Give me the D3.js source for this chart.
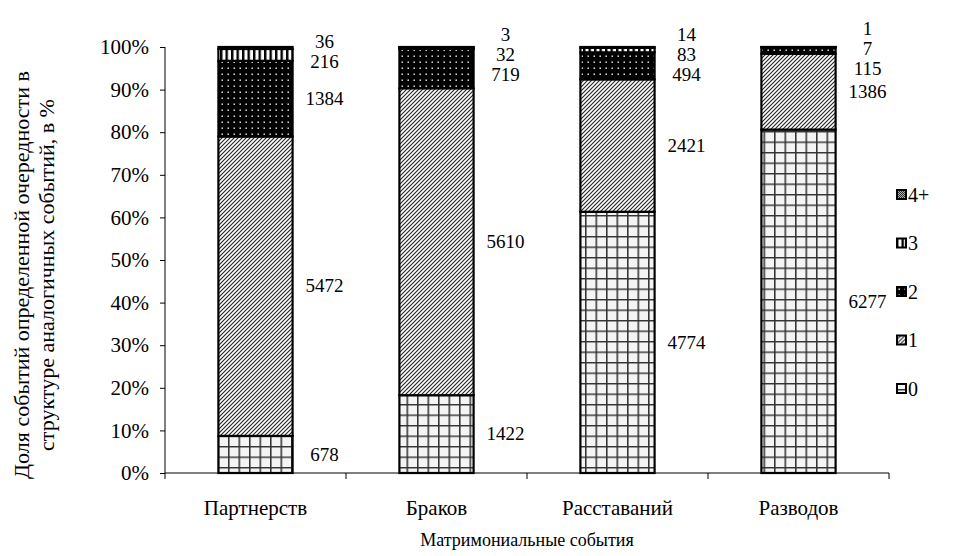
<!DOCTYPE html>
<html>
<head>
<meta charset="utf-8">
<script src="https://cdn.jsdelivr.net/npm/d3@7"></script>
<style>
  body { margin: 0; background: #fff; }
  .axis path, .axis line { stroke: #000; stroke-width: 1; }
</style>
</head>
<body>
<svg id="chart" width="958" height="556"></svg>
<script>
// данные
const categories = ['Партнерств', 'Браков', 'Расставаний', 'Разводов'];
const seriesNames = ['0', '1', '2', '3', '4+'];
const s0 = [678, 1422, 4774, 6277];
const s1 = [5472, 5610, 2421, 1386];
const s2 = [1384, 719, 494, 115];
const s3 = [216, 32, 83, 7];
const s4 = [36, 3, 14, 1];
const yTicks = [0, 0.1, 0.2, 0.3, 0.4, 0.5, 0.6, 0.7, 0.8, 0.9, 1];
const yTitle = ['Доля событий определенной очередности в', 'структуре аналогичных событий, в %'];
const xTitle = 'Матримониальные события';

const FONT = '"Liberation Serif", "Times New Roman", Times, serif';

const series = [s0, s1, s2, s3, s4];
const rows = categories.map((c, i) => {
    const r = { cat: c };
    seriesNames.forEach((k, j) => r[k] = series[j][i]);
    return r;
});

const svg = d3.select('#chart').attr('font-family', FONT);
const margin = { left: 165, right: 69, top: 47, bottom: 83 };
const width = 958 - margin.left - margin.right;
const height = 556 - margin.top - margin.bottom;

// узоры заливки
const defs = svg.append('defs');

const p0 = defs.append('pattern').attr('id', 'p0').attr('patternUnits', 'userSpaceOnUse')
    .attr('width', 10.5).attr('height', 10.5);
p0.append('rect').attr('width', 10.5).attr('height', 10.5).attr('fill', '#f4f4f4');
p0.append('path').attr('d', 'M0.75,0V10.5M0,0.75H10.5').attr('stroke', '#333').attr('stroke-width', 1.6);

const p1 = defs.append('pattern').attr('id', 'p1').attr('patternUnits', 'userSpaceOnUse')
    .attr('width', 4).attr('height', 4);
p1.append('rect').attr('width', 4).attr('height', 4).attr('fill', '#fff');
p1.append('path').attr('d', 'M-1,1L1,-1M0,4L4,0M3,5L5,3').attr('stroke', '#222').attr('stroke-width', 1.1);

const p2 = defs.append('pattern').attr('id', 'p2').attr('patternUnits', 'userSpaceOnUse')
    .attr('width', 6).attr('height', 6);
p2.append('rect').attr('width', 6).attr('height', 6).attr('fill', '#000');
p2.append('rect').attr('x', 2.5).attr('y', 2.5).attr('width', 1.4).attr('height', 1.4).attr('fill', '#fff');

const p3 = defs.append('pattern').attr('id', 'p3').attr('patternUnits', 'userSpaceOnUse')
    .attr('width', 5.5).attr('height', 5.5);
p3.append('rect').attr('width', 5.5).attr('height', 5.5).attr('fill', '#fff');
p3.append('rect').attr('width', 2.4).attr('height', 5.5).attr('fill', '#000');

const p4 = defs.append('pattern').attr('id', 'p4').attr('patternUnits', 'userSpaceOnUse')
    .attr('width', 2).attr('height', 2);
p4.append('rect').attr('width', 2).attr('height', 2).attr('fill', '#333');
p4.append('rect').attr('width', 1).attr('height', 1).attr('fill', '#aaa');
p4.append('rect').attr('x', 1).attr('y', 1).attr('width', 1).attr('height', 1).attr('fill', '#aaa');

const fills = { '0': 'url(#p0)', '1': 'url(#p1)', '2': 'url(#p2)', '3': 'url(#p3)', '4+': 'url(#p4)' };

// шкалы
const x = d3.scaleBand().domain(categories).range([0, width]).paddingInner(0.59).paddingOuter(0.295);
const y = d3.scaleLinear().domain([0, 1]).range([height, 0]);

const stack = d3.stack().keys(seriesNames).offset(d3.stackOffsetExpand);
const stacked = stack(rows);

const g = svg.append('g').attr('transform', `translate(${margin.left},${margin.top})`);

// оси
const xb = d3.scaleBand().domain(categories).range([0, width]);
g.append('g').attr('class', 'axis axis-x')
    .attr('transform', `translate(0,${height})`)
    .call(d3.axisBottom(xb).tickSize(0).tickPadding(27))
    .call(a => a.attr('font-family', FONT).selectAll('text').attr('font-size', 21))
    .call(a => a.select('.domain').attr('d', `M0,0H${width}`));
g.select('.axis-x').selectAll('.sep')
    .data(d3.range(categories.length + 1))
    .join('line').attr('class', 'sep')
    .attr('x1', i => i * xb.step()).attr('x2', i => i * xb.step())
    .attr('y1', 0).attr('y2', 6).attr('stroke', '#000');

g.append('g').attr('class', 'axis axis-y')
    .call(d3.axisLeft(y).tickValues(yTicks).tickFormat(d3.format('.0%')).tickSize(5).tickPadding(11))
    .call(a => a.attr('font-family', FONT).selectAll('text').attr('font-size', 21))
    .call(a => a.select('.domain').attr('d', `M0,0V${height}`));

// столбцы
const layers = g.append('g').selectAll('g.layer')
    .data(stacked).join('g').attr('class', 'layer')
    .attr('fill', d => fills[d.key]);

layers.selectAll('rect')
    .data(d => d).join('rect')
    .attr('x', d => x(d.data.cat))
    .attr('y', d => y(d[1]))
    .attr('width', x.bandwidth())
    .attr('height', d => y(d[0]) - y(d[1]))
    .attr('stroke', '#000').attr('stroke-width', 2.2);

// подписи значений с разведением наложений
const gap = 20;
categories.forEach((c, i) => {
    let labels = stacked.map(s => ({
        v: s[i].data[s.key],
        y: y((s[i][0] + s[i][1]) / 2)
    }));
    labels.sort((a, b) => a.y - b.y);
    let moved = true, it = 0;
    while (moved && it < 300) {
        moved = false; it++;
        for (let k = 0; k < labels.length - 1; k++) {
            const a = labels[k], b = labels[k + 1];
            const d = b.y - a.y;
            if (d < gap - 0.01) {
                const shift = (gap - d) / 2;
                a.y -= shift; b.y += shift;
                moved = true;
            }
        }
    }
    g.append('g').selectAll('text')
        .data(labels).join('text')
        .attr('x', x(c) + x.bandwidth() + 32)
        .attr('y', d => d.y)
        .attr('dy', '0.33em')
        .attr('text-anchor', 'middle')
        .attr('font-family', FONT)
        .attr('font-size', 19)
        .text(d => d.v);
});

// заголовки осей
svg.append('text')
    .attr('x', margin.left + width / 2)
    .attr('y', 546)
    .attr('text-anchor', 'middle')
    .attr('font-family', FONT)
    .attr('font-size', 18)
    .text(xTitle);

const yt = svg.append('text')
    .attr('transform', `translate(29,${margin.top + height / 2 + 15}) rotate(-90)`)
    .attr('text-anchor', 'middle')
    .attr('font-family', FONT)
    .attr('font-size', 22);
yt.selectAll('tspan').data(yTitle).join('tspan')
    .attr('x', 0).attr('dy', (d, i) => i === 0 ? 0 : 25)
    .text(d => d);

// легенда
const legend = svg.append('g').attr('transform', 'translate(896,0)');
const ly = d3.scalePoint().domain(seriesNames.slice().reverse()).range([195, 389]);
const li = legend.selectAll('g').data(seriesNames).join('g')
    .attr('transform', d => `translate(0,${ly(d)})`);
li.append('rect').attr('x', 1).attr('y', -5).attr('width', 9).attr('height', 9)
    .attr('fill', d => fills[d]).attr('stroke', '#000').attr('stroke-width', 2);
li.append('text').attr('x', 12).attr('dy', '0.33em')
    .attr('font-family', FONT).attr('font-size', 20).text(d => d);
</script>
</body>
</html>
